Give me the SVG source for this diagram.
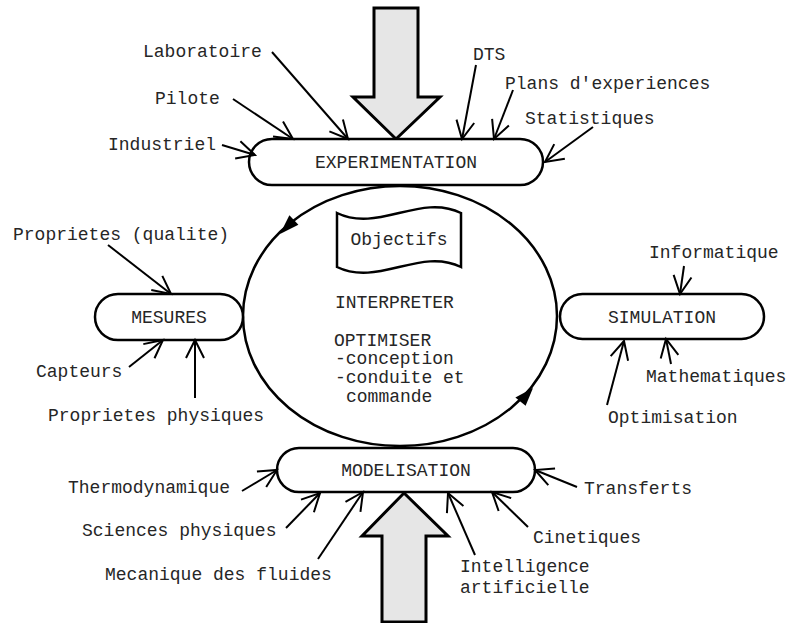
<svg xmlns="http://www.w3.org/2000/svg" width="787" height="623" viewBox="0 0 787 623">
<style>
  text { font-family: "Liberation Mono", "Courier New", monospace; font-size: 18px; fill: #262626; }
  .c { text-anchor: middle; }
  .pill { fill: #ffffff; stroke: #000; stroke-width: 2.5; }
  .big { fill: #e6e6e6; stroke: #000; stroke-width: 3; stroke-linejoin: miter; }
  .conn path { fill: none; stroke: #000; stroke-width: 2; marker-end: url(#open); }
  .cyc { fill: none; stroke: #000; stroke-width: 2.5; }
</style>
<defs>
  <marker id="open" markerUnits="userSpaceOnUse" markerWidth="24" markerHeight="24" viewBox="-20 -12 24 24" refX="0" refY="0" orient="auto">
    <path d="M-18,-9 L0,0 L-18,9" fill="none" stroke="#000" stroke-width="2"/>
  </marker>
</defs>
<rect width="787" height="623" fill="#ffffff"/>

<g id="cycle">
  <ellipse class="cyc" cx="400" cy="316" rx="157" ry="130"/>
  <polygon points="280,234 298.4,224.7 289.4,215.2" fill="#000"/>
  <polygon points="533,388 525.6,405.8 515.4,397.5" fill="#000"/>
</g>

<g id="input-top">
  <polygon class="big" points="374,8 418,8 418,97 440,97 396,139 353,97 374,97"/>
</g>
<g id="input-bottom">
  <polygon class="big" points="404,493 448,536 426,536 426,622 382,622 382,536 362,536"/>
</g>

<g id="experimentation">
  <rect class="pill" x="249" y="139" width="294" height="46" rx="23"/>
  <text class="c" x="396" y="168">EXPERIMENTATION</text>
</g>
<g id="mesures">
  <rect class="pill" x="95" y="294" width="148" height="46" rx="23"/>
  <text class="c" x="169" y="323">MESURES</text>
</g>
<g id="simulation">
  <rect class="pill" x="560" y="294" width="204" height="45" rx="22.5"/>
  <text class="c" x="662" y="323">SIMULATION</text>
</g>
<g id="modelisation">
  <rect class="pill" x="277" y="448" width="258" height="44" rx="22"/>
  <text class="c" x="406" y="476">MODELISATION</text>
</g>

<g id="objectifs">
  <path d="M337,213 C378,233 420,193 461,213 L461,267 C420,247 378,287 337,267 Z" fill="#fff" stroke="#000" stroke-width="2.5"/>
  <text class="c" x="399" y="245">Objectifs</text>
</g>

<g id="centre">
  <text x="335" y="308">INTERPRETER</text>
  <text x="334" y="346">OPTIMISER</text>
  <text x="335" y="364">-conception</text>
  <text x="335" y="383">-conduite et</text>
  <text x="346" y="402">commande</text>
</g>

<g id="labels">
  <text x="143" y="57">Laboratoire</text>
  <text x="155" y="104">Pilote</text>
  <text x="108" y="150">Industriel</text>
  <text x="473" y="60">DTS</text>
  <text x="505" y="89">Plans d'experiences</text>
  <text x="525" y="124">Statistiques</text>
  <text x="13" y="240">Proprietes (qualite)</text>
  <text x="36" y="377">Capteurs</text>
  <text x="48" y="421">Proprietes physiques</text>
  <text x="649" y="258">Informatique</text>
  <text x="646" y="382">Mathematiques</text>
  <text x="608" y="423">Optimisation</text>
  <text x="68" y="493">Thermodynamique</text>
  <text x="82" y="536">Sciences physiques</text>
  <text x="105" y="580">Mecanique des fluides</text>
  <text x="584" y="494">Transferts</text>
  <text x="533" y="543">Cinetiques</text>
  <text x="460" y="572">Intelligence</text>
  <text x="460" y="593">artificielle</text>
</g>

<g id="connectors" class="conn">
  <path d="M272,52 L348,139"/>
  <path d="M233,99 L293,139"/>
  <path d="M222,145 L255,155"/>
  <path d="M476,65 L462,139"/>
  <path d="M513,90 L494,139"/>
  <path d="M593,127 L545,162"/>
  <path d="M108,245 L171,294"/>
  <path d="M129,367 L163,340"/>
  <path d="M195,398 L195,340"/>
  <path d="M684,266 L680,294"/>
  <path d="M671,364 L666,339"/>
  <path d="M607,405 L624,341"/>
  <path d="M242,491 L277,470"/>
  <path d="M286,528 L320,493"/>
  <path d="M318,559 L363,492"/>
  <path d="M577,487 L535,470"/>
  <path d="M528,527 L492,492"/>
  <path d="M475,555 L448,493"/>
</g>
</svg>
